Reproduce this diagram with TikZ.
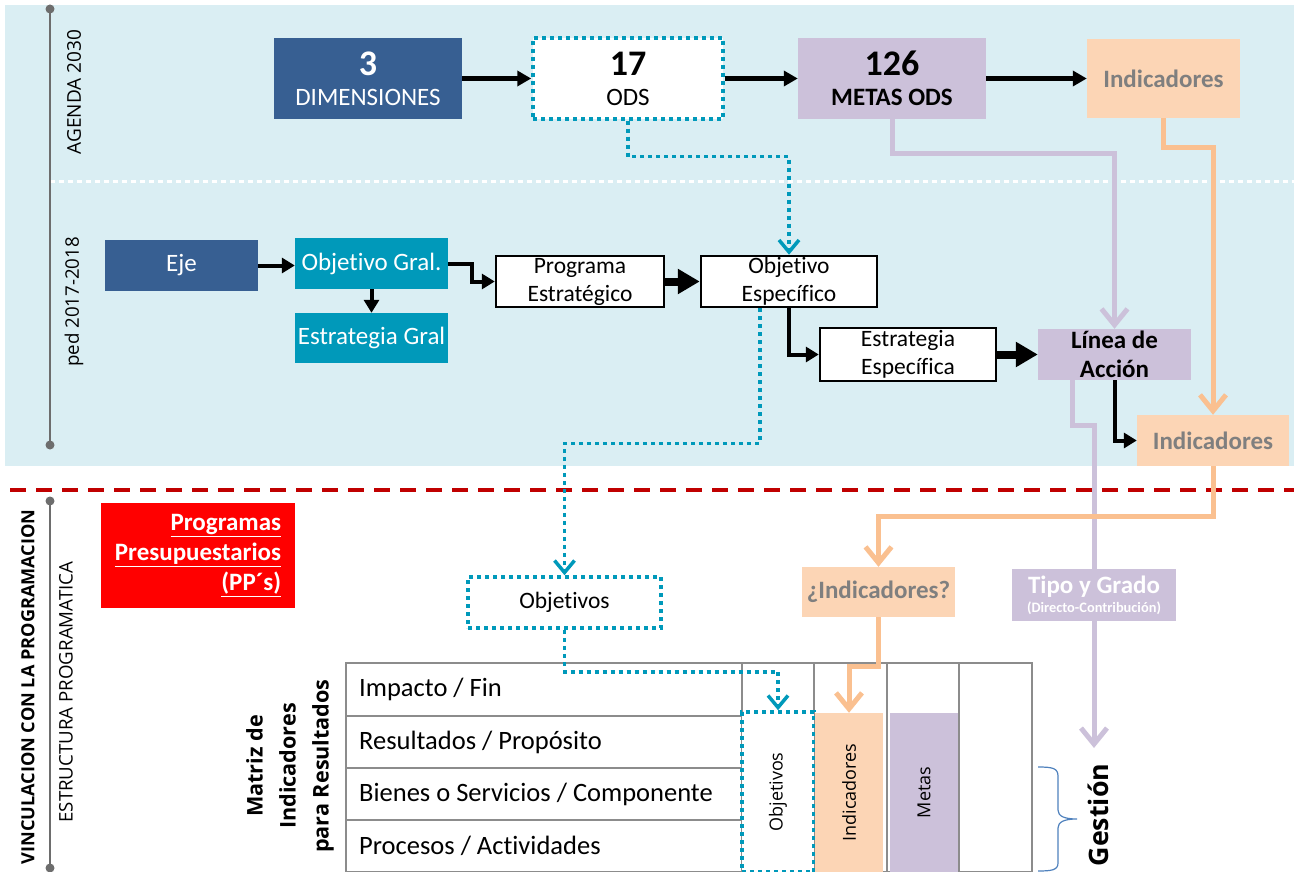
\documentclass[tikz,border=0pt]{standalone}
\usepackage{fontspec}
\setmainfont{Carlito}[Ligatures=CommonOff]
\newfontfamily\osans{Open Sans}
\usetikzlibrary{arrows.meta}

\definecolor{fondo}{HTML}{DAEEF3}
\definecolor{azul}{HTML}{375F92}
\definecolor{turquesa}{HTML}{0099BA}
\definecolor{lila}{HTML}{CCC1DA}
\definecolor{durazno}{HTML}{FCD5B5}
\definecolor{naranja}{HTML}{FAC090}
\definecolor{gris}{HTML}{7F7F7F}
\definecolor{eje}{HTML}{6D6D6D}
\definecolor{rejilla}{HTML}{8C8C8C}
\definecolor{rojo}{HTML}{C00000}
\definecolor{llave}{HTML}{4F81BD}

\begin{document}
\begin{tikzpicture}[x=1pt,y=-1pt]
\tikzstyle caja=[inner sep=0pt, align=center, font=\fontsize{25}{30}\selectfont];
\tikzstyle azulbox=[caja, fill=azul, text=white];
\tikzstyle turqbox=[caja, fill=turquesa, text=white];
\tikzstyle blancobox=[caja, draw=black, line width=2.5pt, fill=white, font=\fontsize{23.5}{28}\selectfont];
\tikzstyle puntobox=[caja, fill=white, draw=turquesa, line width=3.5pt, dash pattern=on 4pt off 4pt];
\tikzstyle lilabox=[caja, fill=lila];
\tikzstyle duraznobox=[caja, fill=durazno, text=gris, font=\fontsize{25}{30}\selectfont\bfseries];
\tikzstyle etiqueta=[inner sep=0pt, align=center, font=\osans\fontsize{18.7}{22}\selectfont];
\tikzstyle flecha=[line width=5pt, -{Triangle[length=14pt,width=15pt]}];
\tikzstyle flechagruesa=[line width=8pt, -{Triangle[length=22pt,width=24pt]}];
\tikzstyle flechacodo=[line width=4pt, -{Triangle[length=13pt,width=15pt]}];
\tikzstyle punteada=[line width=3.5pt, turquesa, dash pattern=on 4pt off 4pt, -{Straight Barb[length=12pt,width=20pt]}];
\tikzstyle lilalinea=[line width=5pt, lila, -{Straight Barb[length=16pt,width=26pt]}];
\tikzstyle naranjalinea=[line width=5pt, naranja, -{Straight Barb[length=16pt,width=26pt]}];
\tikzstyle rejillalinea=[rejilla, line width=2pt];

\useasboundingbox (0,0) rectangle (1294,872);

% fondo y separadores
\fill[fondo] (5,5) rectangle (1294,466);
\draw[white, line width=3pt, dash pattern=on 5pt off 4pt] (50,182) -- (1294,182);
\draw[rojo, line width=4pt, dash pattern=on 16pt off 10pt] (10,490) -- (1294,490);
\draw[eje, line width=2pt] (50,9) -- (50,445);
\fill[eje] (50,9) circle (4.5pt) (50,445) circle (4.5pt);
\draw[eje, line width=2pt] (50,501) -- (50,868);
\fill[eje] (50,501) circle (4.5pt) (50,868) circle (4.5pt);

\node[etiqueta, rotate=90, font=\osans\fontsize{19}{22}\selectfont] (agenda) at (74,92) {AGENDA 2030};
\node[etiqueta, rotate=90] (ped) at (74,302) {ped 2017-2018};
\node[etiqueta, rotate=90, font=\osans\bfseries\fontsize{18.1}{22}\selectfont] (vinc) at (28,687) {VINCULACION CON LA PROGRAMACION};
\node[etiqueta, rotate=90] (estruc) at (66,692) {ESTRUCTURA PROGRAMATICA};

% agenda 2030
\node[azulbox, minimum width=188pt, minimum height=81pt] (dim) at (368,78.5) {{\fontsize{36}{38}\selectfont\bfseries 3}\\DIMENSIONES};
\node[puntobox, minimum width=190pt, minimum height=81pt] (ods) at (628,78.5) {{\fontsize{36}{38}\selectfont\bfseries 17}\\ODS};
\node[lilabox, minimum width=188pt, minimum height=81pt, font=\fontsize{25}{30}\selectfont\bfseries] (metas) at (892,78.5) {{\fontsize{36}{38}\selectfont 126}\\METAS ODS};
\node[duraznobox, minimum width=153pt, minimum height=79pt] (indtop) at (1163.5,78.5) {Indicadores};

% ped
\node[azulbox, minimum width=153pt, minimum height=51pt] (ejebox) at (181.5,265.5) {Eje};
\node[turqbox, minimum width=153pt, minimum height=51pt] (objgral) at (371.5,263.5) {Objetivo Gral.};
\node[turqbox, minimum width=153pt, minimum height=50pt] (estgral) at (371.5,338) {Estrategia Gral};
\node[blancobox, minimum width=168pt, minimum height=51pt] (progest) at (580,281.5) {Programa\\Estratégico};
\node[blancobox, minimum width=176pt, minimum height=51pt] (objesp) at (789,281.5) {Objetivo\\Específico};
\node[blancobox, minimum width=176pt, minimum height=53pt] (estesp) at (908,354.5) {Estrategia\\Específica};
\node[lilabox, minimum width=153pt, minimum height=51pt, font=\fontsize{25}{29}\selectfont\bfseries] (linea) at (1114.5,354.5) {Línea de\\Acción};
\node[duraznobox, minimum width=152pt, minimum height=51pt] (indmid) at (1213,440.5) {Indicadores};

% programacion
\node[caja, fill=red, text=white, align=right, minimum width=194pt, minimum height=105pt, font=\fontsize{25}{30}\selectfont\bfseries] (pp) at (198,555.5) {\underline{Programas}\\\underline{Presupuestarios}\\\underline{(PP´s)}};
\node[puntobox, minimum width=193pt, minimum height=51pt, font=\fontsize{23.5}{28}\selectfont] (objlow) at (564.5,602.5) {Objetivos};
\node[duraznobox, minimum width=153pt, minimum height=50pt] (indq) at (878.5,592) {¿Indicadores?};
\node[lilabox, text=white, minimum width=164pt, minimum height=52pt, font=\fontsize{25}{30}\selectfont\bfseries] (tipo) at (1094,595) {Tipo y Grado\\[-11pt]{\fontsize{14.4}{16}\selectfont (Directo-Contribución)}};
\coordinate (gest) at (1094,748);

% matriz
\draw[rejillalinea] (346,663) rectangle (1032,872);
\foreach \y in {716,768,820} \draw[rejillalinea] (346,\y) -- (742,\y);
\foreach \x in {742,814,887,959} \draw[rejillalinea] (\x,663) -- (\x,872);
\node[caja, anchor=west, font=\fontsize{26.5}{30}\selectfont] (fila1) at (359,689.5) {Impacto / Fin};
\node[caja, anchor=west, font=\fontsize{26.5}{30}\selectfont] (fila2) at (359,742) {Resultados / Propósito};
\node[caja, anchor=west, font=\fontsize{26.5}{30}\selectfont] (fila3) at (359,794) {Bienes o Servicios / Componente};
\node[caja, anchor=west, font=\fontsize{26.5}{30}\selectfont] (fila4) at (359,846) {Procesos / Actividades};
\node[puntobox, minimum width=72pt, minimum height=160pt, font=\osans\fontsize{18}{22}\selectfont] (objcol) at (778,792) {\rotatebox{90}{Objetivos}};
\node[caja, fill=durazno, minimum width=68pt, minimum height=159pt, font=\osans\fontsize{18}{22}\selectfont] (indcol) at (849,792.5) {\rotatebox{90}{Indicadores}};
\node[caja, fill=lila, minimum width=68pt, minimum height=159pt, font=\osans\fontsize{18}{22}\selectfont] (metcol) at (924,792.5) {\rotatebox{90}{Metas}};
\node[etiqueta, rotate=90, font=\osans\bfseries\fontsize{21.6}{33}\selectfont] (mir) at (290,766) {Matriz de\\Indicadores\\para Resultados};
\node[etiqueta, rotate=90, font=\osans\bfseries\fontsize{26.8}{30}\selectfont] (gestion) at (1098,815) {Gestión};
\draw[llave, line width=1.2pt] (1038,767) .. controls (1052,767) and (1058,768) .. (1058,776) -- (1058,810) .. controls (1058,816) and (1064,819) .. (1077,819) .. controls (1064,819) and (1058,822) .. (1058,828) -- (1058,863) .. controls (1058,870) and (1052,871) .. (1038,871);

% flechas negras
\draw[flecha] (dim.east) -- (ods.west);
\draw[flecha] (ods.east) -- (metas.west);
\draw[flecha] (metas.east) -- (indtop.west);
\draw[flechacodo] (ejebox.east) -- (ejebox.east -| objgral.west);
\draw[flechacodo] (objgral.south) -- (estgral.north);
\draw[flechacodo] (objgral.east) -- ++(24,0) |- (progest.west);
\draw[flechagruesa] (progest.east) -- (objesp.west);
\draw[flechacodo] (objesp.south) |- (estesp.west);
\draw[flechagruesa] (estesp.east) -- (linea.west);
\draw[flechacodo] (linea.south) |- (indmid.west);

% flechas punteadas
\draw[punteada] (ods.south) -- ++(0,36) -| (objesp.north);
\draw[punteada] ([xshift=-29pt]objesp.south) -- ++(0,135) -| (objlow.north);
\draw[punteada] (objlow.south) -- ++(0,42) -| (objcol.north);

% lineas lila y naranja
\draw[lilalinea] (metas.south) -- ++(0,34) -| (linea.north);
\draw[lila, line width=5pt] ([xshift=-42pt]linea.south) -- ++(0,45) -| (tipo.north);
\draw[lilalinea] (tipo.south) -- (gest);
\draw[naranjalinea] (indtop.south) -- ++(0,29) -| (indmid.north);
\draw[naranjalinea] (indmid.south) -- ++(0,50) -| (indq.north);
\draw[naranjalinea] (indq.south) -- ++(0,49) -| (indcol.north);
\end{tikzpicture}
\end{document}
